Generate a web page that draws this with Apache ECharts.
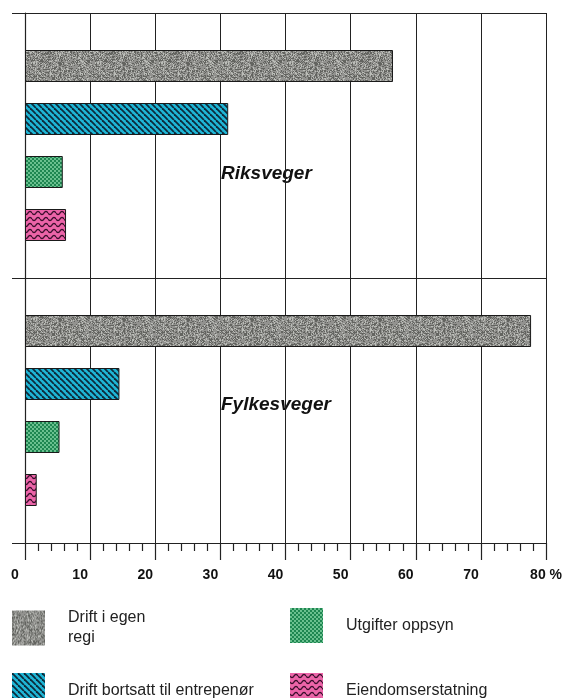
<!DOCTYPE html>
<html>
<head>
<meta charset="utf-8">
<script src="https://cdn.jsdelivr.net/npm/echarts@6/dist/echarts.min.js"></script>
<style>
  html, body { margin: 0; padding: 0; background: #fff; }
  #chart { width: 565px; height: 698px; }
</style>
</head>
<body>
<div id="chart"></div>
<script>
// ---- data ----
const groups = ['Riksveger', 'Fylkesveger'];
const seriesNames = ['Drift i egen regi', 'Drift bortsatt til entrepenør', 'Utgifter oppsyn', 'Eiendomserstatning'];
const riksveger = [56.5, 31.2, 5.8, 6.3];
const fylkesveger = [77.7, 14.5, 5.3, 1.8];
const xTicks = [0, 10, 20, 30, 40, 50, 60, 70, 80];

// ---- patterns (style only) ----
function makeCanvas(w, h) { const c = document.createElement('canvas'); c.width = w; c.height = h; return c; }
function grayPattern() {
  const c = makeCanvas(64, 64), g = c.getContext('2d');
  g.fillStyle = '#92928f'; g.fillRect(0, 0, 64, 64);
  let s = 12345;
  const next = () => { s = (s * 1103515245 + 12345) & 0x7fffffff; return s / 0x7fffffff; };
  for (let y = 0; y < 64; y++) for (let x = 0; x < 64; x++) {
    const v = next();
    if (v < 0.3) { g.fillStyle = 'rgba(60,62,58,0.55)'; g.fillRect(x, y, 1, 1); }
    else if (v > 0.82) { g.fillStyle = 'rgba(215,218,212,0.6)'; g.fillRect(x, y, 1, 1); }
  }
  return c;
}
function cyanPattern() {
  const c = makeCanvas(6, 6), g = c.getContext('2d');
  g.fillStyle = '#1fb6d6'; g.fillRect(0, 0, 6, 6);
  g.strokeStyle = '#0d2a3a'; g.lineWidth = 1.8;
  for (let k = -6; k <= 6; k += 6) { g.beginPath(); g.moveTo(k, 0); g.lineTo(k + 6, 6); g.stroke(); }
  return c;
}
function greenPattern() {
  const c = makeCanvas(4, 4), g = c.getContext('2d');
  g.fillStyle = '#1e8651'; g.fillRect(0, 0, 4, 4);
  g.fillStyle = '#8fdcae';
  g.beginPath(); g.arc(1, 1, 0.9, 0, Math.PI * 2); g.fill();
  g.beginPath(); g.arc(3, 3, 0.9, 0, Math.PI * 2); g.fill();
  return c;
}
function pinkPattern() {
  const c = makeCanvas(8, 6), g = c.getContext('2d');
  g.fillStyle = '#ec64a8'; g.fillRect(0, 0, 8, 6);
  g.strokeStyle = '#3a0f2c'; g.lineWidth = 1.3;
  g.beginPath();
  for (let x = 0; x <= 8; x += 0.5) {
    const y = 3 + 1.6 * Math.sin(x / 8 * Math.PI * 2);
    if (x === 0) g.moveTo(x, y); else g.lineTo(x, y);
  }
  g.stroke();
  return c;
}
const fills = [grayPattern(), cyanPattern(), greenPattern(), pinkPattern()]
  .map(c => ({ image: c, repeat: 'repeat' }));

// ---- category slots: blank, 4 Riksveger, blank, 4 Fylkesveger, blank ----
const slots = [''];
seriesNames.forEach(n => slots.push(groups[0] + ' - ' + n));
slots.push('');
seriesNames.forEach(n => slots.push(groups[1] + ' - ' + n));
slots.push('');

const series = seriesNames.map((name, i) => {
  const data = slots.map(() => '-');
  data[1 + i] = riksveger[i];
  data[6 + i] = fylkesveger[i];
  return {
    name, type: 'bar', data,
    barWidth: 32, barGap: '-100%',
    itemStyle: { color: fills[i], borderColor: '#1a1a1a', borderWidth: 1 },
    emphasis: { disabled: true }, silent: true
  };
});

const lineCol = '#222';
const labelFont = 'Liberation Sans, Arial, sans-serif';

function legendFor(name, left, top) {
  return {
    data: [name], left, top, orient: 'horizontal', padding: 0,
    icon: 'rect', itemWidth: 33, itemHeight: 35, itemGap: 0,
    selectedMode: false,
    formatter: n => n === seriesNames[0] ? 'Drift i egen\nregi' : n,
    textStyle: { fontSize: 16, color: '#222', fontFamily: labelFont, lineHeight: 20, padding: [0, 0, 0, 18] },
    itemStyle: { borderWidth: 0 }
  };
}

const chart = echarts.init(document.getElementById('chart'));
chart.setOption({
  animation: false,
  backgroundColor: '#fff',
  grid: { left: 25, right: 16, top: 13, bottom: 155, containLabel: false },
  xAxis: {
    type: 'value', min: 0, max: 80, interval: 10,
    axisLine: { show: true, lineStyle: { color: lineCol, width: 1 } },
    axisTick: { show: true, inside: false, length: 17, lineStyle: { color: lineCol, width: 1.2 } },
    minorTick: { show: true, splitNumber: 5, length: 8, lineStyle: { color: lineCol, width: 1.2 } },
    splitLine: { show: true, lineStyle: { color: lineCol, width: 1 } },
    axisLabel: {
      margin: 25, fontSize: 14, fontWeight: 'bold', color: '#111', fontFamily: labelFont,
      padding: [0, 20, 0, 0],
      formatter: v => v === xTicks[xTicks.length - 1] ? '{last|' + v + ' %}' : String(v),
      rich: { last: { padding: [0, 0, 0, 20], fontSize: 14, fontWeight: 'bold', color: '#111', fontFamily: labelFont } }
    }
  },
  yAxis: {
    type: 'category', data: slots, inverse: true, boundaryGap: false,
    axisLine: { show: true, lineStyle: { color: lineCol, width: 1.2 } },
    axisTick: { show: true, length: 13, interval: idx => idx % 5 === 0, lineStyle: { color: lineCol, width: 1 } },
    axisLabel: { show: false },
    splitLine: { show: true, interval: idx => idx % 5 === 0, lineStyle: { color: lineCol, width: 1 } }
  },
  legend: [
    legendFor(seriesNames[0], 12, 608),
    legendFor(seriesNames[2], 290, 608),
    legendFor(seriesNames[1], 12, 673),
    legendFor(seriesNames[3], 290, 673)
  ],
  graphic: [
    { type: 'text', left: 221, top: 164, style: { text: groups[0], font: 'italic bold 19px ' + labelFont, fill: '#111' } },
    { type: 'text', left: 221, top: 395, style: { text: groups[1], font: 'italic bold 19px ' + labelFont, fill: '#111' } }
  ],
  series
});
</script>
</body>
</html>
